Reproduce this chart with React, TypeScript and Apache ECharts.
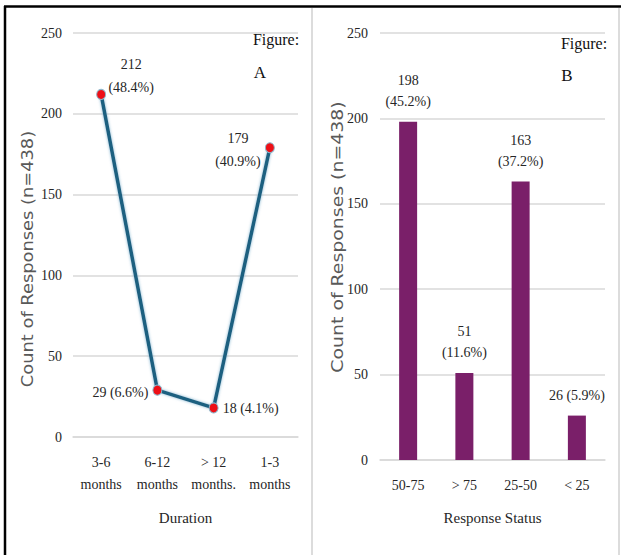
import React, { useEffect, useRef } from "react";
import * as echarts from "echarts";

const durationCategories = ["3-6\nmonths", "6-12\nmonths", "> 12\nmonths.", "1-3\nmonths"];
const durationCounts = [212, 29, 18, 179];
const durationPercents = ["48.4%", "6.6%", "4.1%", "40.9%"];

const statusCategories = ["50-75", "> 75", "25-50", "< 25"];
const statusCounts = [198, 51, 163, 26];
const statusPercents = ["45.2%", "11.6%", "37.2%", "5.9%"];

const yMin = 0;
const yMax = 250;
const yInterval = 50;

const SERIF = "'Liberation Serif', 'Times New Roman', serif";
const SANS = "'DejaVu Sans', Verdana, sans-serif";
const TEXT = "#262626";
const GRID = "#d9d9d9";

export default function App() {
  const ref = useRef<HTMLDivElement>(null);

  useEffect(() => {
    if (!ref.current) return;
    const chart = echarts.init(ref.current, undefined, { renderer: "svg" });

    const lineLabelOffsets: [number, number][] = [
      [30, -18],
      [-37, 2],
      [37, 1],
      [-32, 2],
    ];
    const lineLabelOneLine = [false, true, true, false];

    const yAxisBase = (gridIndex: number, margin: number) => ({
      type: "value",
      gridIndex,
      min: yMin,
      max: yMax,
      interval: yInterval,
      axisLine: { show: false },
      axisTick: { show: false },
      axisLabel: { fontFamily: SERIF, fontSize: 14, color: TEXT, margin },
      splitLine: { lineStyle: { color: GRID, width: 1.5 } },
    });

    const xAxisBase = (gridIndex: number, cats: string[], name: string, nameGap: number) => ({
      type: "category",
      gridIndex,
      data: cats,
      axisLine: { show: true, lineStyle: { color: GRID, width: 1.5 } },
      axisTick: { show: false },
      axisLabel: { fontFamily: SERIF, fontSize: 14, color: TEXT, margin: 14, lineHeight: 22, interval: 0 },
      name,
      nameLocation: "middle",
      nameGap,
      nameTextStyle: { fontFamily: SERIF, fontSize: 15, color: TEXT },
    });

    chart.setOption({
      animation: false,
      backgroundColor: "#ffffff",
      grid: [
        { left: 73, right: 323, top: 33, bottom: 118 },
        { left: 380, right: 16, top: 33, bottom: 95 },
      ],
      xAxis: [
        xAxisBase(0, durationCategories, "Duration", 73),
        xAxisBase(1, statusCategories, "Response Status", 50),
      ],
      yAxis: [yAxisBase(0, 11), yAxisBase(1, 12)],
      series: [
        {
          type: "line",
          xAxisIndex: 0,
          yAxisIndex: 0,
          data: durationCounts.map((v, i) => ({
            value: v,
            label: {
              show: true,
              position: "inside",
              align: "center",
              verticalAlign: "middle",
              offset: lineLabelOffsets[i],
              formatter: lineLabelOneLine[i]
                ? `${v} (${durationPercents[i]})`
                : `${v}\n(${durationPercents[i]})`,
            },
          })),
          symbol: "circle",
          symbolSize: [9, 10],
          itemStyle: { color: "#ee0f16", borderColor: "#8fb8cc", borderWidth: 1 },
          lineStyle: {
            color: "#1d6080",
            width: 3.5,
            shadowColor: "rgba(120,175,205,0.9)",
            shadowBlur: 3,
          },
          label: { fontFamily: SERIF, fontSize: 14, color: TEXT, lineHeight: 23 },
          z: 3,
        },
        {
          type: "bar",
          xAxisIndex: 1,
          yAxisIndex: 1,
          data: statusCounts,
          barWidth: 18,
          itemStyle: { color: "#7a1f69" },
          label: {
            show: true,
            position: "top",
            distance: 10,
            fontFamily: SERIF,
            fontSize: 14,
            color: TEXT,
            lineHeight: 21,
            formatter: (p: any) =>
              p.value < 40
                ? `${p.value} (${statusPercents[p.dataIndex]})`
                : `${p.value}\n(${statusPercents[p.dataIndex]})`,
          },
        },
      ],
      graphic: [
        { type: "line", shape: { x1: 4, y1: 6.5, x2: 621, y2: 6.5 }, style: { stroke: "#000", lineWidth: 2.5 } },
        { type: "line", shape: { x1: 5, y1: 6, x2: 5, y2: 555 }, style: { stroke: "#000", lineWidth: 2.5 } },
        { type: "line", shape: { x1: 312, y1: 8, x2: 312, y2: 555 }, style: { stroke: "#d0d0d0", lineWidth: 1.5 } },
        { type: "line", shape: { x1: 619, y1: 8, x2: 619, y2: 555 }, style: { stroke: "#d0d0d0", lineWidth: 1.5 } },
        {
          type: "text",
          x: 28,
          y: 259,
          rotation: Math.PI / 2,
          scaleX: 1.19,
          style: {
            text: "Count of Responses (n=438)",
            fontFamily: SANS,
            fontSize: 15,
            fill: "#595959",
            align: "center",
            verticalAlign: "middle",
          },
        },
        {
          type: "text",
          x: 338,
          y: 237,
          rotation: Math.PI / 2,
          scaleX: 1.26,
          style: {
            text: "Count of Responses (n=438)",
            fontFamily: SANS,
            fontSize: 15,
            fill: "#595959",
            align: "center",
            verticalAlign: "middle",
          },
        },
        {
          type: "text",
          x: 276,
          y: 39,
          style: { text: "Figure:", fontFamily: SERIF, fontSize: 16, fill: "#111", align: "center", verticalAlign: "middle" },
        },
        {
          type: "text",
          x: 260,
          y: 72,
          style: { text: "A", fontFamily: SERIF, fontSize: 17, fill: "#111", align: "center", verticalAlign: "middle" },
        },
        {
          type: "text",
          x: 584,
          y: 43,
          style: { text: "Figure:", fontFamily: SERIF, fontSize: 16, fill: "#111", align: "center", verticalAlign: "middle" },
        },
        {
          type: "text",
          x: 567,
          y: 75,
          style: { text: "B", fontFamily: SERIF, fontSize: 17, fill: "#111", align: "center", verticalAlign: "middle" },
        },
      ],
    });

    return () => chart.dispose();
  }, []);

  return (
    <div
      ref={ref}
      style={{ position: "fixed", left: 0, top: 0, width: 621, height: 555, background: "#fff" }}
    />
  );
}
